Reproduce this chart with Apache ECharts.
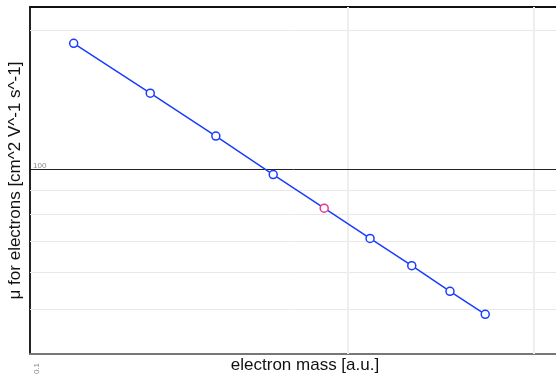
<!DOCTYPE html>
<html><head><meta charset="utf-8">
<script src="https://cdn.jsdelivr.net/npm/echarts@6/dist/echarts.min.js"></script>
<style>html,body{margin:0;padding:0;background:#fff}#c{width:556px;height:378px}</style>
</head><body><div id="c"></div>
<script>
const electronMass = [0.11, 0.13, 0.15, 0.17, 0.19, 0.21, 0.23, 0.25, 0.27];
const mobility = [187, 146, 118, 97.5, 82.5, 71, 62, 54.6, 48.7];
const highlightIndex = 4;
const yTickLabels = [100];
const xTickLabels = [0.1];
const yGridValues = [50, 60, 70, 80, 90, 200];
const xGridValues = [0.2, 0.3];
const xTitle = 'electron mass [a.u.]';
const yTitle = 'μ for electrons [cm^2 V^-1 s^-1]';

const blue = '#1a3cff', pink = '#e8388c';
const data = electronMass.map((m, i) => ({
  value: [m, mobility[i]],
  itemStyle: { borderColor: i === highlightIndex ? pink : blue }
}));
const xMin = 0.1, xMax = 0.332, yMin = 40, yMax = 224;

const chart = echarts.init(document.getElementById('c'), null, { renderer: 'canvas' });
chart.setOption({
  animation: false,
  grid: { left: 30, right: -24, top: 7, bottom: 24, containLabel: false, outerBoundsMode: 'none' },
  xAxis: [{
    type: 'log', logBase: 10, min: xMin, max: xMax,
    name: xTitle, nameLocation: 'middle', nameGap: 3, nameMoveOverlap: false,
    nameTextStyle: { fontFamily: 'Liberation Sans', fontSize: 17, color: '#111' },
    axisLine: { show: true, lineStyle: { color: '#777', width: 2 } },
    axisTick: { show: false },
    splitLine: { show: false },
    axisLabel: { show: true, customValues: xTickLabels, rotate: 90, fontSize: 8, color: '#888',
      fontFamily: 'Liberation Sans', margin: 9, verticalAlign: 'top', padding: [3, 0, 0, 0],
      formatter: v => String(v) }
  }, {
    type: 'log', logBase: 10, min: xMin, max: xMax, position: 'top',
    axisLine: { show: true, lineStyle: { color: '#111', width: 2 } },
    axisTick: { show: false }, axisLabel: { show: false }, splitLine: { show: false }
  }],
  yAxis: {
    type: 'log', logBase: 10, min: yMin, max: yMax,
    name: yTitle, nameLocation: 'middle', nameGap: 6, nameMoveOverlap: false,
    nameTextStyle: { fontFamily: 'Liberation Sans', fontSize: 17, color: '#111' },
    axisLine: { show: true, lineStyle: { color: '#222', width: 2 } },
    axisTick: { show: false },
    splitLine: { show: false },
    axisLabel: { show: true, inside: true, customValues: yTickLabels, fontSize: 8, color: '#888',
      fontFamily: 'Liberation Sans', verticalAlign: 'bottom', margin: 3, formatter: v => String(v) }
  },
  series: [{
    type: 'line', xAxisIndex: 0, data: data,
    symbol: 'circle', symbolSize: 8,
    lineStyle: { color: blue, width: 1.5 },
    itemStyle: { color: '#fff', borderWidth: 1.5 },
    z: 5,
    markLine: {
      silent: true, symbol: 'none', label: { show: false }, animation: false,
      data: [
        ...yGridValues.map(v => ({ yAxis: v, lineStyle: { color: '#e8e8e8', width: 1, type: 'solid' } })),
        ...xGridValues.map(v => ({ xAxis: v, lineStyle: { color: '#eeeeee', width: 2, type: 'solid' } })),
        ...yTickLabels.map(v => ({ yAxis: v, lineStyle: { color: '#222', width: 1, type: 'solid' } }))
      ]
    }
  }]
});
</script></body></html>
